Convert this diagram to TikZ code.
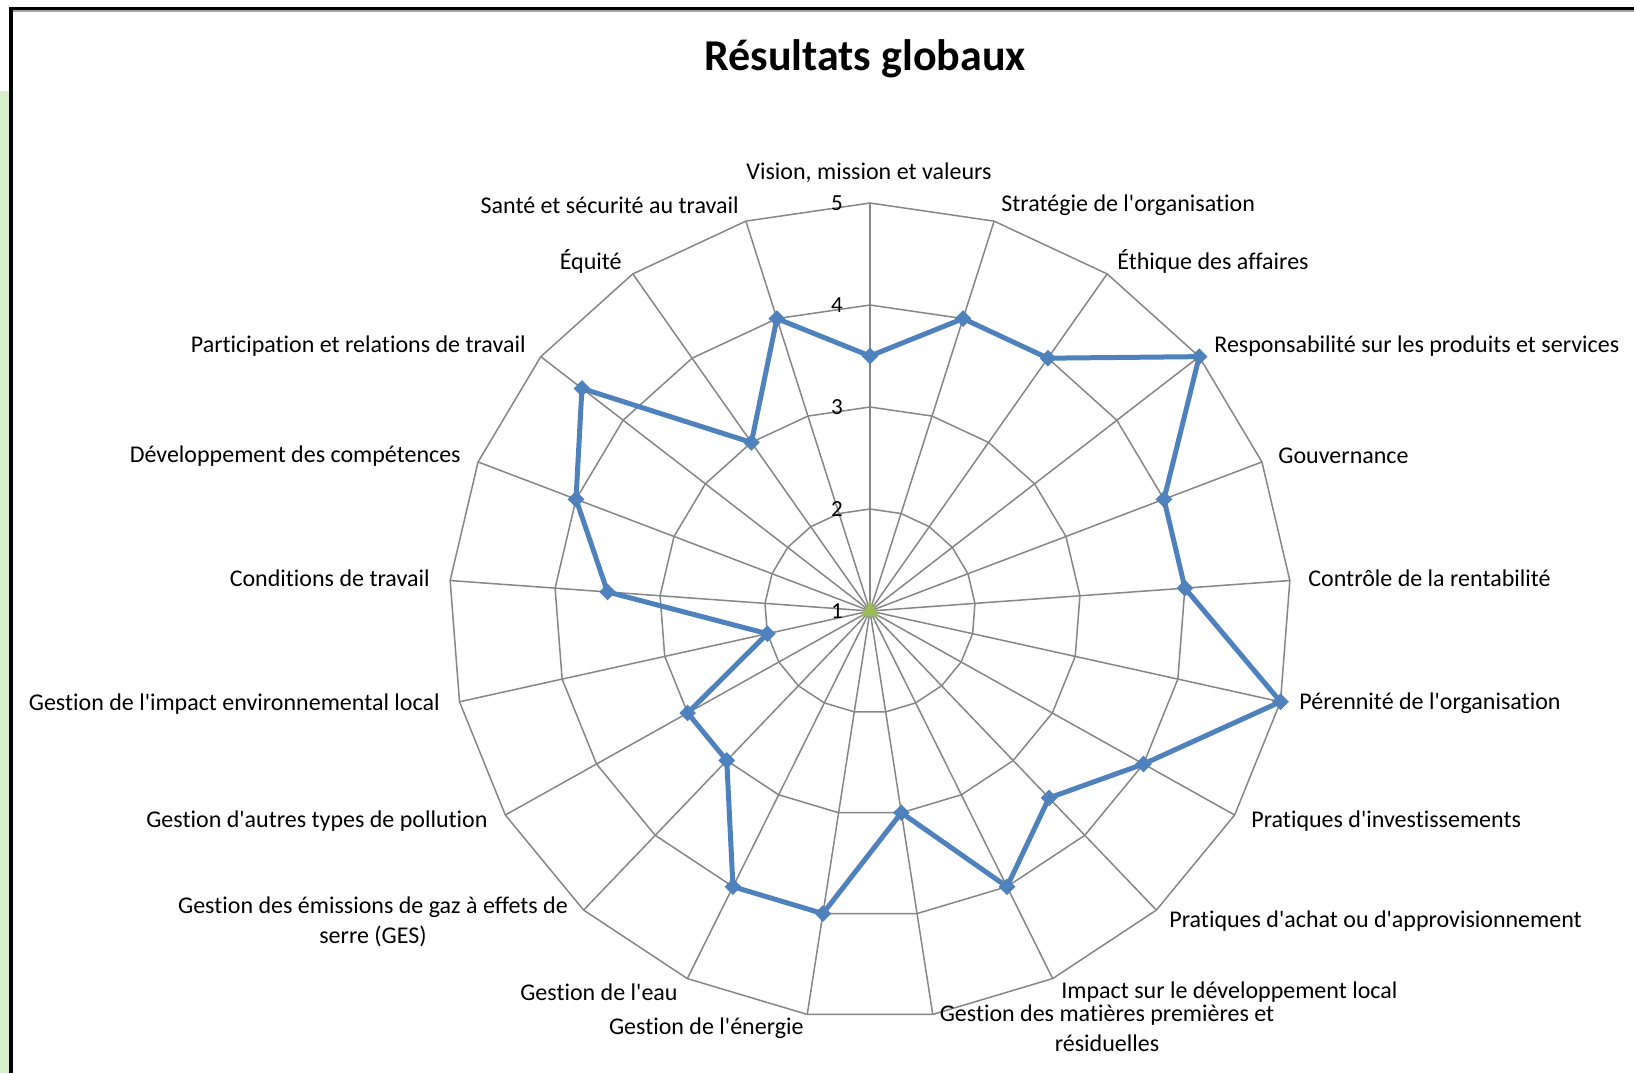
\documentclass[tikz,border=0pt]{standalone}
\usepackage{fontspec}
\setmainfont{Carlito}[Ligatures={CommonOff,TeXOff}]
\usetikzlibrary{shapes.geometric}

\definecolor{serieblue}{RGB}{79,129,189}
\definecolor{seriegreen}{RGB}{155,187,89}
\definecolor{gridgray}{RGB}{134,134,134}
\definecolor{stripgreen}{RGB}{216,240,204}

\begin{document}
\begin{tikzpicture}[x=0.5pt, y=0.5pt,
        grid/.style={draw=gridgray, line width=0.75pt},
        serie/.style={draw=serieblue, line width=2.5pt, line join=round},
        marker/.style={diamond, fill=serieblue, draw=none, inner sep=0pt, minimum size=8.5pt},
        origin/.style={regular polygon, regular polygon sides=3, fill=seriegreen, draw=none, inner sep=0pt, minimum size=10.5pt},
        lbl/.style={font=\fontsize{12}{14.85}\selectfont, inner sep=0pt, align=center},
        tick/.style={font=\fontsize{11.5}{14}\selectfont, inner sep=0pt}]

        \useasboundingbox (-870,-462) rectangle (764,611);
        \fill[stripgreen] (-870,-462) rectangle (-861,520);
        \fill[white] (-870,611) rectangle (-861,520);
        \draw[black, line width=1.8pt] (-859,-462) -- (-859,602.5) -- (764,602.5);
        \draw[gray!70, line width=0.8pt] (-857,600) -- (764,600);

        \node[font=\fontsize{22}{26}\selectfont\bfseries, inner sep=0pt] (title) at (-5,552) {Résultats globaux};

        \begin{scope}[xscale=1.032]
            \foreach \r in {102,204,306,408}
                \draw[grid] (90:\r) \foreach \k in {1,...,20} { -- ({90-\k*360/21}:\r) } -- cycle;
            \foreach \k in {0,...,20}
                \draw[grid] (0,0) -- ({90-\k*360/21}:408);

            \coordinate (v1) at (90:255);
            \coordinate (v2) at (72.857:306);
            \coordinate (v3) at (55.714:306);
            \coordinate (v4) at (38.571:408);
            \coordinate (v5) at (21.429:306);
            \coordinate (v6) at (4.286:306);
            \coordinate (v7) at (-12.857:408);
            \coordinate (v8) at (-30:306);
            \coordinate (v9) at (-47.143:255);
            \coordinate (v10) at (-64.286:306);
            \coordinate (v11) at (-81.429:204);
            \coordinate (v12) at (-98.571:306);
            \coordinate (v13) at (-115.714:306);
            \coordinate (v14) at (-132.857:204);
            \coordinate (v15) at (-150:204);
            \coordinate (v16) at (-167.143:102);
            \coordinate (v17) at (175.714:255);
            \coordinate (v18) at (158.571:306);
            \coordinate (v19) at (141.429:357);
            \coordinate (v20) at (124.286:204);
            \coordinate (v21) at (107.143:306);

            \draw[serie] (v1) -- (v2) -- (v3) -- (v4) -- (v5) -- (v6) -- (v7) -- (v8) -- (v9) -- (v10) -- (v11)
                -- (v12) -- (v13) -- (v14) -- (v15) -- (v16) -- (v17) -- (v18) -- (v19) -- (v20) -- (v21) -- cycle;

            \foreach \k in {1,...,21}
                \node[marker] (m\k) at (v\k) {};
            \node[origin] (o) at (0,0) {};
        \end{scope}

        \node[tick] (t1) at (-33,0) {1};
        \node[tick] (t2) at (-33,102) {2};
        \node[tick] (t3) at (-33,204) {3};
        \node[tick] (t4) at (-33,306) {4};
        \node[tick] (t5) at (-33,408) {5};

        \node[lbl] (vision) at (-1,438) {Vision, mission et valeurs};
        \node[lbl, anchor=west] (strategie) at (131,406) {Stratégie de l'organisation};
        \node[lbl, anchor=west] (ethique) at (247,350) {Éthique des affaires};
        \node[lbl, anchor=west] (responsabilite) at (344,265) {Responsabilité sur les produits et services};
        \node[lbl, anchor=west] (gouvernance) at (408,155) {Gouvernance};
        \node[lbl, anchor=west] (controle) at (438,33) {Contrôle de la rentabilité};
        \node[lbl, anchor=west] (perennite) at (429,-92) {Pérennité de l'organisation};
        \node[lbl, anchor=west] (investissements) at (381,-210) {Pratiques d'investissements};
        \node[lbl, anchor=west] (achat) at (299,-310) {Pratiques d'achat ou d'approvisionnement};
        \node[lbl, anchor=west] (impact) at (191,-381) {Impact sur le développement local};
        \node[lbl] (matieres) at (237,-417) {Gestion des matières premières et\\résiduelles};
        \node[lbl, anchor=east] (energie) at (-66,-417) {Gestion de l'énergie};
        \node[lbl, anchor=east] (eau) at (-192,-381) {Gestion de l'eau};
        \node[lbl] (ges) at (-497,-311) {Gestion des émissions de gaz à effets de\\serre (GES)};
        \node[lbl, anchor=east] (pollution) at (-382,-210) {Gestion d'autres types de pollution};
        \node[lbl, anchor=east] (environnement) at (-430,-93) {Gestion de l'impact environnemental local};
        \node[lbl, anchor=east] (conditions) at (-440,33) {Conditions de travail};
        \node[lbl, anchor=east] (competences) at (-409,155) {Développement des compétences};
        \node[lbl, anchor=east] (participation) at (-344,265) {Participation et relations de travail};
        \node[lbl, anchor=east] (equite) at (-248,350) {Équité};
        \node[lbl, anchor=east] (sante) at (-131,406) {Santé et sécurité au travail};
    \end{tikzpicture}
\end{document}
